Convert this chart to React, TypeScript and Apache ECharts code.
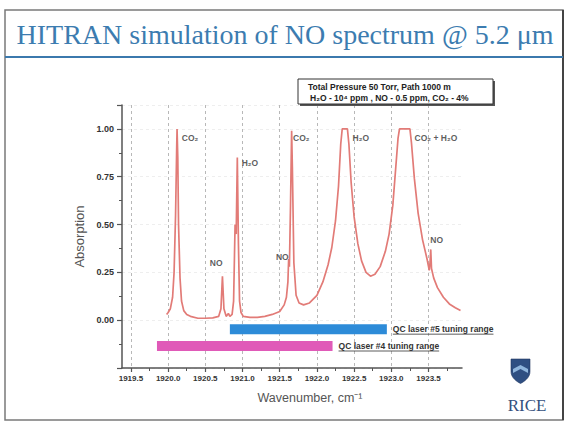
import React, { useEffect, useRef } from "react";
import * as echarts from "echarts";

// ---- Data ----
const spectrumWavenumber = [
  1919.98, 1920.0, 1920.03, 1920.06, 1920.08, 1920.1, 1920.115, 1920.12, 1920.13, 1920.14,
  1920.16, 1920.18, 1920.21, 1920.25, 1920.3, 1920.4, 1920.5, 1920.6, 1920.68, 1920.71,
  1920.73, 1920.75, 1920.78, 1920.81, 1920.83, 1920.86, 1920.88, 1920.9, 1920.915, 1920.93,
  1920.945, 1920.96, 1920.98, 1921.01, 1921.1, 1921.2, 1921.3, 1921.4, 1921.5, 1921.56,
  1921.59, 1921.61, 1921.62, 1921.63, 1921.645, 1921.66, 1921.67, 1921.69, 1921.72, 1921.76,
  1921.82, 1921.9, 1922.0, 1922.08, 1922.15, 1922.2, 1922.25, 1922.29, 1922.32, 1922.34,
  1922.41, 1922.43, 1922.46, 1922.5, 1922.55, 1922.6, 1922.66, 1922.72, 1922.78, 1922.85,
  1922.92, 1922.97, 1923.02, 1923.06, 1923.09, 1923.11, 1923.25, 1923.27, 1923.31, 1923.36,
  1923.42, 1923.48, 1923.51, 1923.52, 1923.53, 1923.54, 1923.57, 1923.62, 1923.7, 1923.78,
  1923.86, 1923.93,
];
const spectrumAbsorption = [
  0.03, 0.04, 0.06, 0.12, 0.25, 0.55, 0.9, 1.0, 0.85, 0.5,
  0.22, 0.1, 0.05, 0.03, 0.02, 0.01, 0.01, 0.012, 0.02, 0.06,
  0.23, 0.06, 0.02, 0.035, 0.02, 0.03, 0.1, 0.5, 0.45, 0.85,
  0.4, 0.1, 0.04, 0.02, 0.015, 0.015, 0.02, 0.03, 0.045, 0.08,
  0.12, 0.2, 0.32, 0.28, 0.6, 0.99, 0.8, 0.3, 0.13, 0.09,
  0.08, 0.09, 0.13, 0.2, 0.29, 0.38, 0.52, 0.7, 0.92, 1.0,
  1.0, 0.92, 0.72, 0.54, 0.4, 0.31, 0.25, 0.23, 0.24, 0.28,
  0.36, 0.45, 0.6, 0.8, 0.95, 1.0, 1.0, 0.93, 0.74, 0.56,
  0.42, 0.32, 0.26, 0.3, 0.37, 0.27, 0.22, 0.17, 0.12, 0.085,
  0.065, 0.05,
];

const annotationLabels = ["CO₂", "NO", "H₂O", "NO", "CO₂", "H₂O", "CO₂ + H₂O", "NO"];
const annotationX = [1920.295, 1920.645, 1921.1, 1921.535, 1921.79, 1922.59, 1923.6, 1923.61];
const annotationY = [0.953, 0.3, 0.823, 0.328, 0.953, 0.953, 0.953, 0.417];

const laserNames = ["QC laser #5 tuning range", "QC laser #4 tuning range"];
const laserStart = [1920.83, 1919.85];
const laserEnd = [1922.94, 1922.21];
const laserLevel = [-0.047, -0.135];
const laserColors = ["#2d8bd8", "#e05ab8"];

const xMajorTicks = [1919.5, 1920.0, 1920.5, 1921.0, 1921.5, 1922.0, 1922.5, 1923.0, 1923.5];
const xMinorTicks = [1919.75, 1920.25, 1920.75, 1921.25, 1921.75, 1922.25, 1922.75, 1923.25, 1923.75];
const yTickLabels = [0, 0.25, 0.5, 0.75, 1.0];

const titleText = "HITRAN simulation of NO spectrum @ 5.2 μm";
const infoLine1 = "Total Pressure 50 Torr, Path 1000 m";
const infoLine2 = "H₂O - 10⁴ ppm , NO - 0.5 ppm, CO₂ - 4%";

const LABEL_FONT = '"Liberation Sans", Arial, sans-serif';
const LASER_FONT_SIZE = 8.5;

export default function App() {
  const ref = useRef<HTMLDivElement>(null);

  useEffect(() => {
    if (!ref.current) return;
    try {
      echarts.graphic.registerShape(
        "riceShield",
        echarts.graphic.extendPath(
          "M0,0 L20,0 L20,13 C20,19 14,23 10,25 C6,23 0,19 0,13 Z",
          {}
        )
      );
    } catch (e) {}
    const chart = echarts.init(ref.current, null, { renderer: "svg" });

    const laserSeries = laserNames.map((name, i) => ({
      type: "line",
      name,
      data: [
        [laserStart[i], laserLevel[i]],
        [laserEnd[i], laserLevel[i]],
      ],
      symbol: "none",
      lineStyle: { color: laserColors[i], width: 10, cap: "butt" },
      z: 3,
      endLabel: {
        show: true,
        formatter: name,
        distance: 6,
        fontSize: LASER_FONT_SIZE,
        fontWeight: "bold",
        color: "#333",
        fontFamily: LABEL_FONT,
      },
    }));

    const option: any = {
      animation: false,
      backgroundColor: "#fff",
      grid: { left: 122, top: 105, right: 109, bottom: 56 },
      xAxis: [
        {
          type: "value",
          min: 1919.38,
          max: 1923.95,
          name: "Wavenumber, cm⁻¹",
          nameLocation: "middle",
          nameGap: 23,
          nameTextStyle: {
            fontSize: 12.5,
            color: "#555",
            fontFamily: LABEL_FONT,
            padding: [0, 0, 0, 36],
          },
          axisLine: { show: true, onZero: false, lineStyle: { color: "#555", width: 1.5 } },
          axisTick: { show: true, length: 4, customValues: xMajorTicks, lineStyle: { color: "#555", width: 1.2 } },
          axisLabel: {
            customValues: xMajorTicks,
            formatter: (v: number) => v.toFixed(1),
            fontSize: 8,
            fontWeight: "bold",
            color: "#333",
            fontFamily: LABEL_FONT,
            margin: 6,
          },
          splitLine: { show: true, lineStyle: { color: "#b8b8b8", type: [3, 3], width: 1 } },
        },
        {
          type: "value",
          min: 1919.38,
          max: 1923.95,
          position: "bottom",
          axisLine: { show: false, onZero: false },
          axisTick: { show: true, length: 3, customValues: xMinorTicks, lineStyle: { color: "#555", width: 1 } },
          axisLabel: { show: false },
          splitLine: { show: false },
        },
      ],
      yAxis: {
        type: "value",
        min: -0.25,
        max: 1.125,
        interval: 0.25,
        name: "Absorption",
        nameLocation: "middle",
        nameGap: 36,
        nameTextStyle: { fontSize: 13, color: "#555", fontFamily: LABEL_FONT },
        axisLine: { show: true, onZero: false, lineStyle: { color: "#555", width: 1.5 } },
        axisTick: { show: true, length: 5, lineStyle: { color: "#555", width: 1.2 } },
        minorTick: { show: true, splitNumber: 2, length: 3, lineStyle: { color: "#555" } },
        axisLabel: {
          customValues: yTickLabels,
          formatter: (v: number) => v.toFixed(2),
          fontSize: 9,
          fontWeight: "bold",
          color: "#333",
          fontFamily: LABEL_FONT,
          margin: 8,
        },
        splitLine: { show: true, lineStyle: { color: "#eeeeee", type: [3, 3], width: 1 } },
      },
      series: [
        {
          type: "line",
          name: "spectrum",
          data: spectrumWavenumber.map((x, i) => [x, spectrumAbsorption[i]]),
          symbol: "none",
          smooth: false,
          lineStyle: { color: "#e27b77", width: 1.7 },
          z: 4,
        },
        ...laserSeries,
        {
          type: "scatter",
          name: "annotations",
          data: annotationX.map((x, i) => ({ value: [x, annotationY[i]], name: annotationLabels[i] })),
          symbolSize: 0,
          itemStyle: { color: "#333" },
          z: 5,
          label: {
            show: true,
            position: "inside",
            formatter: (p: any) => p.name,
            fontSize: 8.5,
            fontWeight: "bold",
            color: "#333",
            textBorderWidth: 0,
            textBorderColor: "transparent",
            fontFamily: LABEL_FONT,
          },
        },
      ],
      graphic: [
        {
          type: "rect",
          shape: { x: 5, y: 10, width: 558, height: 410 },
          style: { fill: "none", stroke: "#7a7a7a", lineWidth: 1.5 },
          silent: true,
        },
        {
          type: "line",
          shape: { x1: 563, y1: 10, x2: 563, y2: 420 },
          style: { stroke: "#444", lineWidth: 2 },
          silent: true,
        },
        {
          type: "line",
          shape: { x1: 5, y1: 57, x2: 563, y2: 57 },
          style: { stroke: "#3b79ad", lineWidth: 2 },
          silent: true,
        },
        {
          type: "text",
          x: 285,
          y: 34,
          style: {
            text: titleText,
            font: '28px "Liberation Serif", "Times New Roman", serif',
            fill: "#3c7cb0",
            textAlign: "center",
            textVerticalAlign: "middle",
          },
          silent: true,
        },
        // info box
        {
          type: "rect",
          shape: { x: 300, y: 81, width: 195, height: 25 },
          style: { fill: "#555", stroke: "none" },
          silent: true,
        },
        {
          type: "rect",
          shape: { x: 298, y: 79, width: 195, height: 25 },
          style: { fill: "#fff", stroke: "#333", lineWidth: 1 },
          silent: true,
        },
        {
          type: "text",
          x: 308,
          y: 86.5,
          style: {
            text: infoLine1,
            font: 'bold 8.5px "Liberation Sans", Arial, sans-serif',
            fill: "#222",
            textAlign: "left",
            textVerticalAlign: "middle",
          },
          silent: true,
        },
        {
          type: "text",
          x: 310,
          y: 97.5,
          style: {
            text: infoLine2,
            font: 'bold 8.5px "Liberation Sans", Arial, sans-serif',
            fill: "#222",
            textAlign: "left",
            textVerticalAlign: "middle",
          },
          silent: true,
        },
        // RICE logo
        {
          type: "riceShield",
          x: 511,
          y: 359,
          scaleX: 0.95,
          scaleY: 0.98,
          style: { fill: "#2f4f82", stroke: "#1f3560", lineWidth: 0.6 },
          silent: true,
        },
        {
          type: "polygon",
          shape: { points: [[513, 369], [520.5, 365], [528, 369], [528, 373], [520.5, 369], [513, 373]] },
          style: { fill: "#8fb5dc" },
          silent: true,
        },
        {
          type: "text",
          x: 527,
          y: 405,
          style: {
            text: "RICE",
            font: '17px "Liberation Serif", "Times New Roman", serif',
            fill: "#34507d",
            textAlign: "center",
            textVerticalAlign: "middle",
          },
          silent: true,
        },
      ],
    };

    chart.setOption(option);

    // underline the laser labels
    const canvas = document.createElement("canvas");
    const ctx = canvas.getContext("2d");
    const underlines: any[] = [];
    if (ctx) {
      ctx.font = `bold ${LASER_FONT_SIZE}px "Liberation Sans", Arial, sans-serif`;
      laserNames.forEach((name, i) => {
        const p = chart.convertToPixel({ xAxisIndex: 0, yAxisIndex: 0 }, [laserEnd[i], laserLevel[i]]) as number[];
        const w = ctx.measureText(name).width;
        const x0 = p[0] + 6;
        underlines.push({
          type: "line",
          shape: { x1: x0, y1: p[1] + 5, x2: x0 + w, y2: p[1] + 5 },
          style: { stroke: "#333", lineWidth: 0.8 },
          silent: true,
        });
      });
    }
    chart.setOption({ graphic: [...option.graphic, ...underlines] }, { replaceMerge: ["graphic"] });

    return () => chart.dispose();
  }, []);

  return (
    <div
      ref={ref}
      style={{ position: "fixed", left: 0, top: 0, width: 571, height: 424, background: "#fff" }}
    />
  );
}
